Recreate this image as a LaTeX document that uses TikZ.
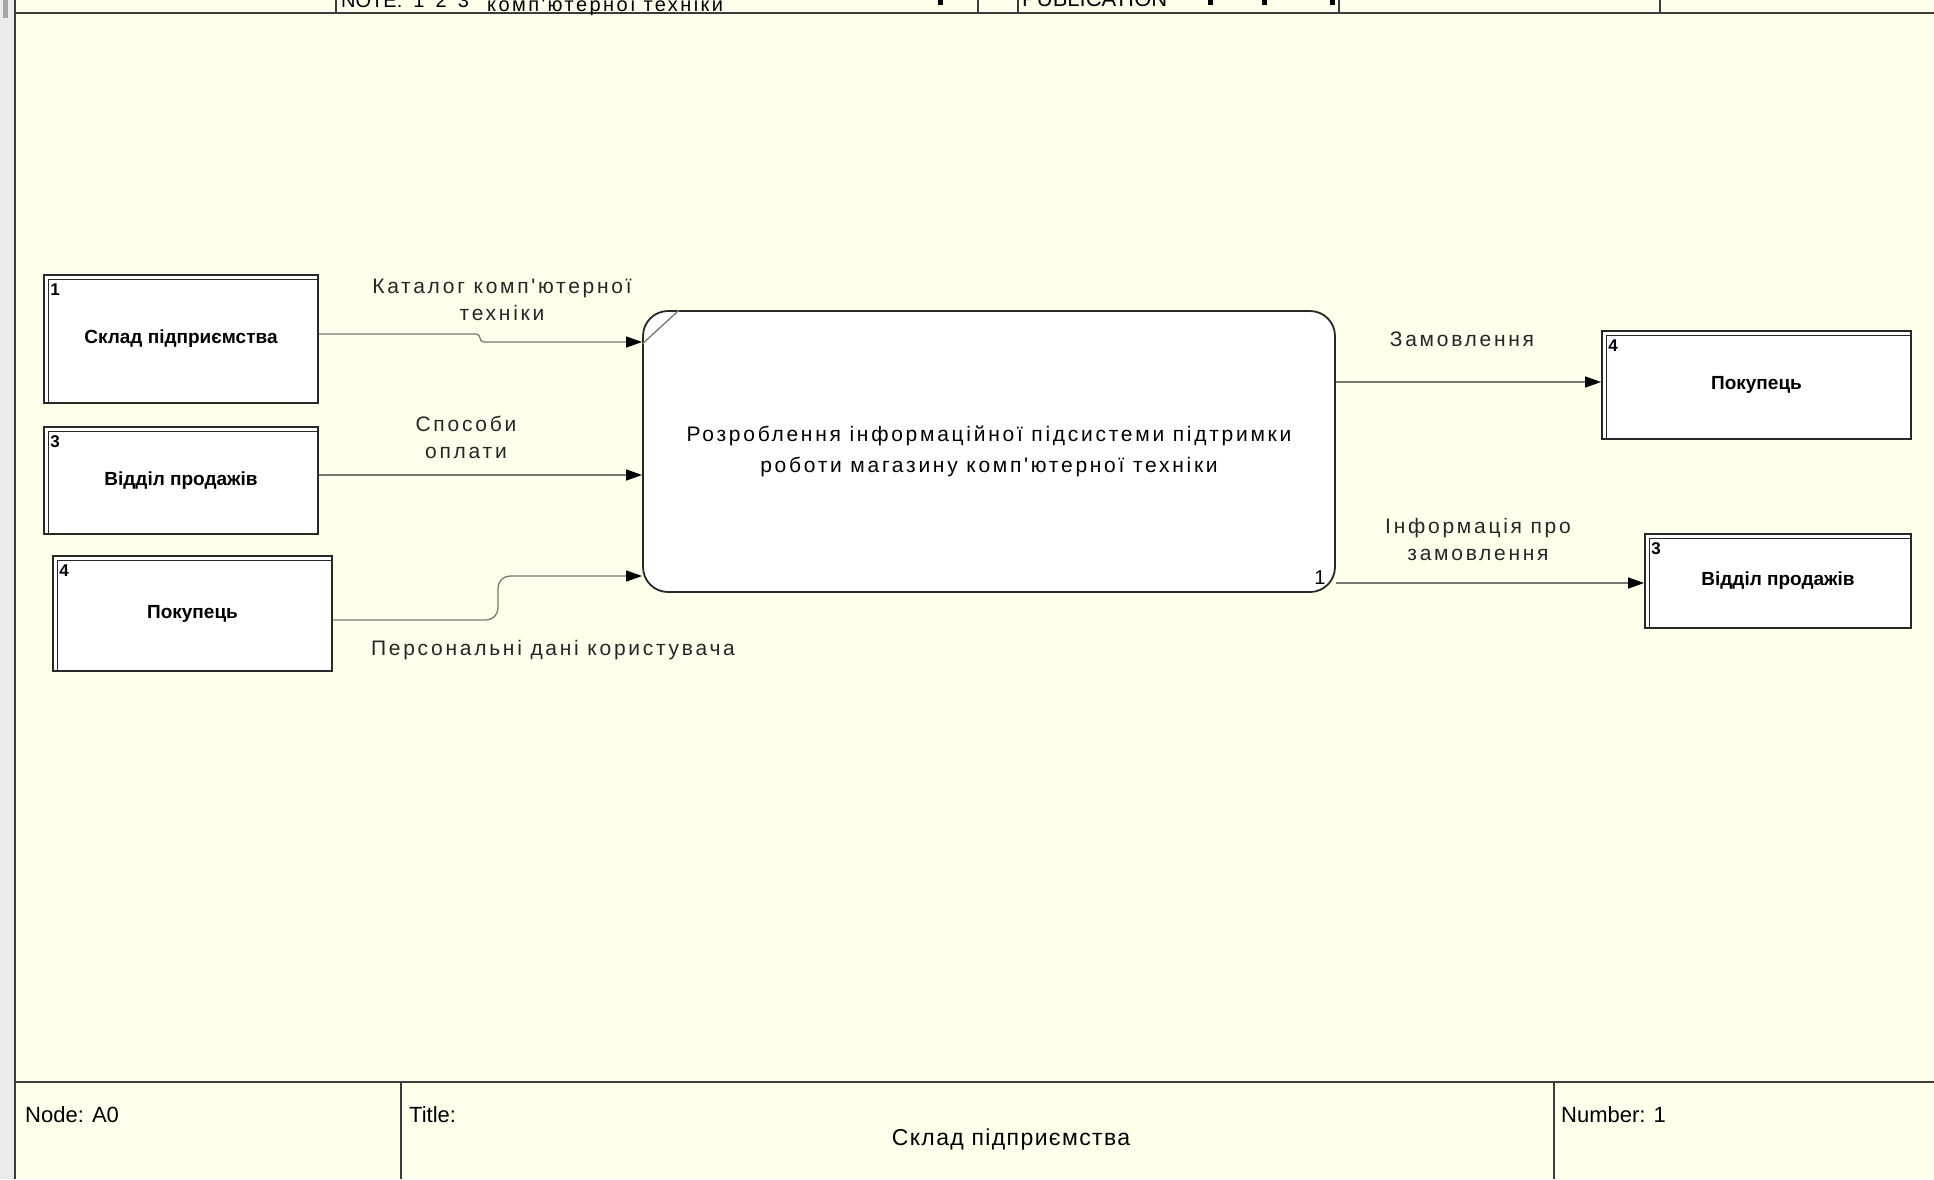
\documentclass[tikz,border=0pt]{standalone}
\usepackage{fontspec}
\setmainfont{Liberation Sans}[Ligatures=TeXOff]
\usetikzlibrary{arrows.meta,calc}
\definecolor{bgc}{RGB}{255,255,235}
\definecolor{linec}{RGB}{120,120,110}
\definecolor{boxc}{RGB}{40,40,40}
\definecolor{framec}{RGB}{60,60,60}
\begin{document}
\begin{tikzpicture}[x=1pt,y=-1pt,
  lbl/.style={font=\fontsize{21}{27}\selectfont\addfontfeature{LetterSpace=13}, text=black!85, align=center, inner sep=0},
  extbox/.style={draw=boxc, line width=1.8, fill=white, inner sep=0, font=\bfseries\fontsize{19}{22}\selectfont},
  numlbl/.style={font=\bfseries\fontsize{17}{17}\selectfont, inner sep=0, anchor=north west},
  flow/.style={draw=linec, line width=1.3, -{Triangle[color=black,length=16pt,width=11pt]}},
  frame/.style={draw=framec, line width=2.4},
  thin/.style={draw=framec, line width=1.2},
  foot/.style={font=\fontsize{22}{24}\selectfont, inner sep=0, anchor=west}]
\useasboundingbox (0,0) rectangle (1934,1179);
\clip (0,0) rectangle (1934,1179);
\fill[bgc] (0,0) rectangle (1934,1179);
% left strip
\fill[black!8] (0,0) rectangle (14,1179);
\fill[black!35] (3,0) rectangle (8,18);
\draw[frame] (15,0) -- (15,1179);
% header strip
\draw[frame] (15,13) -- (1934,13);
\foreach \xx in {336,978,1018,1339,1660} { \draw[thin] (\xx,0) -- (\xx,13); }
\node[foot, anchor=base west, font=\fontsize{20}{22}\selectfont] (hnote) at (341,7) {NOTE:\ \ 1\ \ 2\ \ 3};
\node[foot, anchor=base west, font=\fontsize{20}{22}\selectfont\addfontfeature{LetterSpace=12}] (hcomp) at (487,11) {комп'ютерної техніки};
\node[foot, anchor=base west] (hpub) at (1022,6) {PUBLICATION};
\foreach \xx in {938,1208,1262,1330} { \fill[black] (\xx,0) rectangle (\xx+5,5); }
% external boxes left
\node[extbox, minimum width=274, minimum height=128] (b1) at (181,339) {Склад підприємства};
\node[extbox, minimum width=274, minimum height=107] (b3) at (181,480.5) {Відділ продажів};
\node[extbox, minimum width=279, minimum height=115] (b4) at (192.5,613.5) {Покупець};
% external boxes right
\node[extbox, minimum width=309, minimum height=108] (r4) at (1756.5,385) {\raisebox{-4pt}{Покупець}};
\node[extbox, minimum width=266, minimum height=94] (r3) at (1778,581) {Відділ продажів};
\foreach \b/\n in {b1/1,b3/3,b4/4,r4/4,r3/3} {
  \draw[boxc, line width=1.2] ($(\b.north west)+(5,5)$) -- ($(\b.north east)+(0,5)$);
  \draw[boxc, line width=1.2] ($(\b.north west)+(5,5)$) -- ($(\b.south west)+(5,0)$);
  \node[numlbl] at ($(\b.north west)+(7,9)$) {\n};
}
% main activity
\node[draw=boxc, line width=1.8, fill=white, rounded corners=25, minimum width=692, minimum height=281, inner sep=0,
  align=center, font=\fontsize{21}{31}\selectfont\addfontfeature{LetterSpace=13}] (main) at (989,451.5)
  {Розроблення інформаційної підсистеми підтримки\\роботи магазину комп'ютерної техніки};
\draw[linec, line width=1.3] ($(main.north west)+(0,34)$) -- ($(main.north west)+(37,0)$);
\node[font=\fontsize{20}{20}\selectfont, inner sep=0] (mnum) at (1320,578) {1};
% connectors
\coordinate (j1a) at (480,334);
\coordinate (j1b) at (480,342);
\coordinate (j2) at (600,475);
\coordinate (j3a) at (498,620);
\coordinate (j3b) at (498,576);
\coordinate (j4) at (1450,382);
\coordinate (j5) at (1450,583);
\draw[flow, rounded corners=4] (b1.east |- j1a) -- (j1a) -- (j1b) -- (main.west |- j1b);
\draw[flow] (b3.east |- j2) -- (main.west |- j2);
\draw[flow, rounded corners=12] (b4.east |- j3a) -- (j3a) -- (j3b) -- (main.west |- j3b);
\draw[flow] (main.east |- j4) -- (r4.west |- j4);
\draw[flow] (main.east |- j5) -- (r3.west |- j5);
% labels
\node[lbl] (l1) at (502,299.5) {Каталог комп'ютерної\\техніки};
\node[lbl] (l2) at (466,437) {Способи\\оплати};
\node[lbl] (l3) at (553,650) {Персональні дані користувача};
\node[lbl] (l4) at (1462,339) {Замовлення};
\node[lbl] (l5) at (1478,539) {Інформація про\\замовлення};
% footer
\draw[frame] (15,1082) -- (1934,1082);
\draw[thin] (401,1082) -- (401,1179);
\draw[thin] (1554,1082) -- (1554,1179);
\node[foot] (fnode) at (25,1115) {Node: A0};
\node[foot] (ftitle) at (409,1115) {Title:};
\node[foot, anchor=center, font=\fontsize{23}{25}\selectfont\addfontfeature{LetterSpace=6}] (fname) at (1011,1140) {Склад підприємства};
\node[foot] (fnum) at (1561,1115) {Number: 1};
\end{tikzpicture}
\end{document}
